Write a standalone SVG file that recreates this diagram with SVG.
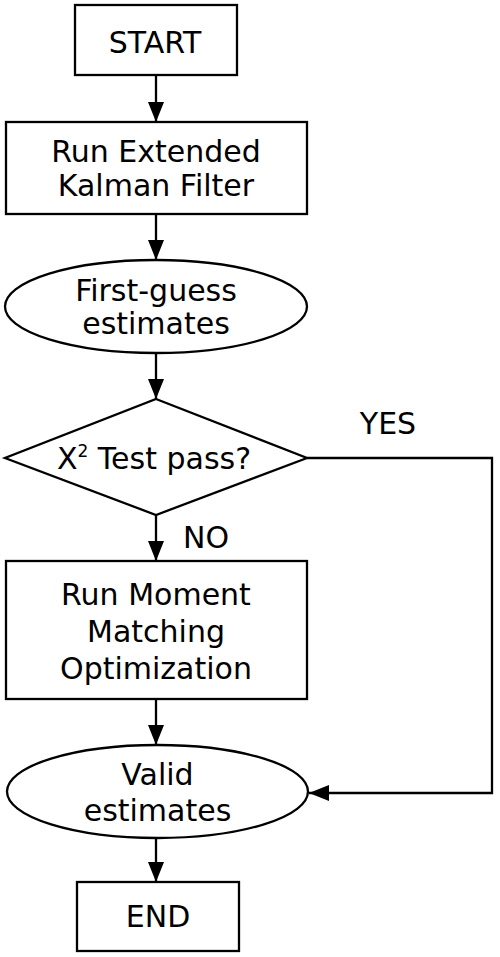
<svg xmlns="http://www.w3.org/2000/svg" width="500" height="957" viewBox="0 0 500 957">
<style>
.shape{fill:#fff;stroke:#000;stroke-width:2.3}
.lbl{font-family:"DejaVu Sans",sans-serif;font-size:30px;fill:#000;text-anchor:middle}
.conn{fill:none;stroke:#000;stroke-width:2.3}
</style>
<defs>
<marker id="ah" markerUnits="userSpaceOnUse" markerWidth="20" markerHeight="16" refX="20" refY="8" orient="auto" viewBox="0 0 20 16">
<path d="M0,0 L20,8 L0,16 z" fill="#000"/>
</marker>
</defs>
<rect width="500" height="957" fill="#fff"/>
<g id="connectors">
<line class="conn" x1="156" y1="75" x2="156" y2="122" marker-end="url(#ah)"/>
<line class="conn" x1="156" y1="214" x2="156" y2="260" marker-end="url(#ah)"/>
<line class="conn" x1="156" y1="353" x2="156" y2="399" marker-end="url(#ah)"/>
<line class="conn" x1="156" y1="515" x2="156" y2="561" marker-end="url(#ah)"/>
<line class="conn" x1="156" y1="699" x2="156" y2="745" marker-end="url(#ah)"/>
<line class="conn" x1="156" y1="838" x2="156" y2="882" marker-end="url(#ah)"/>
<polyline class="conn" points="307,458 492,458 492,793 309,793" marker-end="url(#ah)"/>
<text class="lbl" x="388" y="434">YES</text>
<text class="lbl" x="206" y="548">NO</text>
</g>
<g id="start">
<rect class="shape" x="75" y="5" width="162" height="70"/>
<text class="lbl" x="155" y="53">START</text>
</g>
<g id="ekf">
<rect class="shape" x="6" y="122" width="301" height="92"/>
<text class="lbl" x="156" y="162">Run Extended</text>
<text class="lbl" x="156" y="196">Kalman Filter</text>
</g>
<g id="firstguess">
<ellipse class="shape" cx="156" cy="306.5" rx="151" ry="46.5"/>
<text class="lbl" x="156" y="301">First-guess</text>
<text class="lbl" x="156" y="334">estimates</text>
</g>
<g id="chitest">
<polygon class="shape" points="156,399 307,458 156,515 5,458"/>
<text class="lbl" x="154" y="469">X<tspan font-size="17" dy="-12">2</tspan><tspan dy="12"> Test pass?</tspan></text>
</g>
<g id="moment">
<rect class="shape" x="6" y="561" width="301" height="138"/>
<text class="lbl" x="156" y="605">Run Moment</text>
<text class="lbl" x="156" y="642">Matching</text>
<text class="lbl" x="156" y="679">Optimization</text>
</g>
<g id="valid">
<ellipse class="shape" cx="157.5" cy="791.5" rx="150.5" ry="46.5"/>
<text class="lbl" x="157.5" y="785">Valid</text>
<text class="lbl" x="157.5" y="821">estimates</text>
</g>
<g id="end">
<rect class="shape" x="77" y="882" width="162" height="69"/>
<text class="lbl" x="158" y="927">END</text>
</g>
</svg>
